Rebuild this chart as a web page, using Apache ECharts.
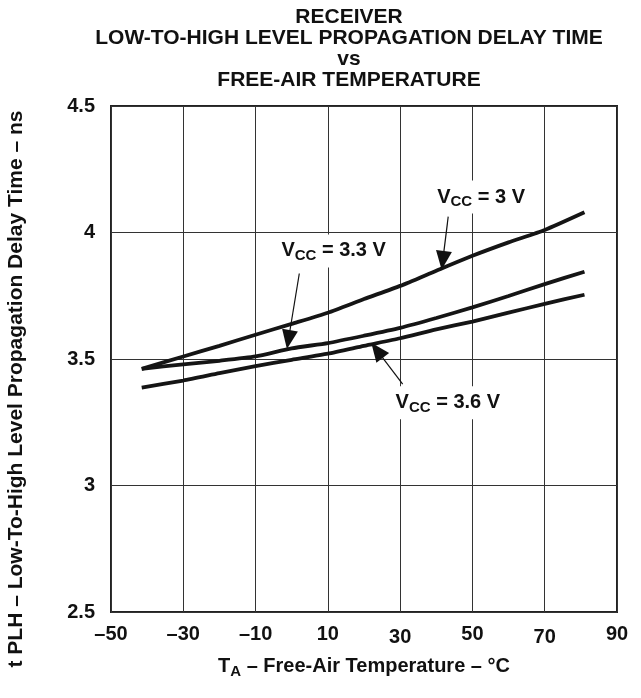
<!DOCTYPE html>
<html>
<head>
    <meta charset="utf-8">
    <title>Receiver tPLH vs temperature</title>
    <script src="https://cdn.jsdelivr.net/npm/echarts@6/dist/echarts.min.js"></script>
    <style>
        html, body { margin: 0; padding: 0; background: #fff; }
    </style>
</head>
<body>

<div id="main" style="width: 641px;height:698px;"></div>
<script type="text/javascript">
    // temperature points (°C) and delay values (ns)
    var temps = [-41.5, -30, -20, -10, 0, 10, 20, 30, 40, 50, 60, 70, 81];
    var vcc3 = [3.461, 3.510, 3.552, 3.596, 3.639, 3.683, 3.737, 3.789, 3.849, 3.908, 3.961, 4.010, 4.080];
    var vcc33 = [3.461, 3.479, 3.493, 3.510, 3.542, 3.563, 3.592, 3.623, 3.662, 3.704, 3.749, 3.796, 3.845];
    var vcc36 = [3.387, 3.415, 3.444, 3.472, 3.497, 3.521, 3.552, 3.582, 3.617, 3.648, 3.683, 3.718, 3.754];

    var yTicks = [2.5, 3, 3.5, 4, 4.5];
    var xTicks = [-50, -30, -10, 10, 30, 50, 70, 90];

    // annotations: label text, label anchor, arrow start, arrow end (data units)
    var noteText = ['3 V', '3.3 V', '3.6 V'];
    var noteAt = [[52.4, 4.14], [11.6, 3.927], [43.2, 3.327]];
    var arrowFrom = [[43.3, 4.063], [2.1, 3.838], [30.7, 3.401]];
    var arrowTo = [[41.8, 3.89], [-0.9, 3.577], [23.6, 3.534]];

    var myChart = echarts.init(document.getElementById('main'));

    function pairs(ys) {
        var out = [];
        for (var i = 0; i < temps.length; i++) {
            out.push([temps[i], ys[i]]);
        }
        return out;
    }

    var font = 'Liberation Sans, Arial, sans-serif';
    var curveStyle = { color: '#151515', width: 3.8 };

    var notePoints = [];
    var arrowLines = [];
    for (var i = 0; i < noteText.length; i++) {
        notePoints.push({ coord: noteAt[i], value: noteText[i] });
        arrowLines.push([{ coord: arrowFrom[i] }, { coord: arrowTo[i] }]);
    }

    var option = {
        animation: false,
        title: {
            text: 'RECEIVER\nLOW-TO-HIGH LEVEL PROPAGATION DELAY TIME\nvs\nFREE-AIR TEMPERATURE',
            left: 349,
            top: 7,
            padding: 0,
            textAlign: 'center',
            textStyle: {
                fontFamily: font,
                fontWeight: 'bold',
                fontSize: 21,
                lineHeight: 21,
                color: '#111'
            }
        },
        grid: {
            left: 111,
            right: 24,
            top: 106,
            bottom: 86,
            show: true,
            borderColor: '#222',
            borderWidth: 2,
            outerBoundsMode: 'none'
        },
        xAxis: {
            type: 'value',
            min: xTicks[0],
            max: xTicks[xTicks.length - 1],
            interval: 20,
            name: '{t|T}{s|A}{t| – Free-Air Temperature – °C}',
            nameLocation: 'middle',
            nameGap: 42,
            nameTextStyle: {
                rich: {
                    t: { fontFamily: font, fontWeight: 'bold', fontSize: 20, color: '#111' },
                    s: { fontFamily: font, fontWeight: 'bold', fontSize: 15, color: '#111', padding: [10, 0, 0, 0] }
                }
            },
            axisLine: { show: false },
            axisTick: { show: false },
            splitLine: { show: true, lineStyle: { color: '#333', width: 1 } },
            axisLabel: {
                margin: 12,
                showMinLabel: true,
                showMaxLabel: true,
                formatter: function (v) {
                    var s = v < 0 ? '–' + Math.abs(v) : String(v);
                    return (v === 30 || v === 70) ? '{lo|' + s + '}' : '{n|' + s + '}';
                },
                rich: {
                    n: { fontFamily: font, fontWeight: 'bold', fontSize: 20, color: '#111' },
                    lo: { fontFamily: font, fontWeight: 'bold', fontSize: 20, color: '#111', padding: [3, 0, 0, 0] }
                }
            }
        },
        yAxis: {
            type: 'value',
            min: yTicks[0],
            max: yTicks[yTicks.length - 1],
            interval: 0.5,
            name: 't PLH – Low-To-High Level Propagation Delay Time – ns',
            nameLocation: 'middle',
            nameGap: 84,
            nameRotate: 90,
            nameTextStyle: {
                fontFamily: font,
                fontWeight: 'bold',
                fontSize: 21,
                color: '#111',
                padding: [0, 60, 0, 0]
            },
            axisLine: { show: false },
            axisTick: { show: false },
            splitLine: { show: true, lineStyle: { color: '#333', width: 1 } },
            axisLabel: {
                margin: 16,
                fontFamily: font,
                fontWeight: 'bold',
                fontSize: 20,
                color: '#111',
                padding: [8, 0, 0, 0]
            }
        },
        series: [
            {
                name: 'VCC = 3 V',
                type: 'line',
                data: pairs(vcc3),
                smooth: 0.2,
                showSymbol: false,
                symbol: 'none',
                lineStyle: curveStyle,
                z: 3,
                markLine: {
                    silent: true,
                    symbol: ['none', 'triangle'],
                    symbolSize: [16, 19],
                    label: { show: false },
                    lineStyle: { color: '#111', width: 1.2, type: 'solid' },
                    data: arrowLines
                },
                markPoint: {
                    silent: true,
                    symbol: 'rect',
                    symbolSize: 1,
                    itemStyle: { color: 'rgba(0,0,0,0)' },
                    label: {
                        show: true,
                        position: 'inside',
                        backgroundColor: '#fff',
                        padding: [4, 10, 4, 10],
                        formatter: function (p) { return '{v|V}{s|CC}{v| = ' + p.value + '}'; },
                        rich: {
                            v: { fontFamily: font, fontWeight: 'bold', fontSize: 20, color: '#111' },
                            s: { fontFamily: font, fontWeight: 'bold', fontSize: 15, color: '#111', padding: [10, 0, 0, 0] }
                        }
                    },
                    data: notePoints
                }
            },
            {
                name: 'VCC = 3.3 V',
                type: 'line',
                data: pairs(vcc33),
                smooth: 0.2,
                showSymbol: false,
                symbol: 'none',
                lineStyle: curveStyle,
                z: 3
            },
            {
                name: 'VCC = 3.6 V',
                type: 'line',
                data: pairs(vcc36),
                smooth: 0.2,
                showSymbol: false,
                symbol: 'none',
                lineStyle: curveStyle,
                z: 3
            }
        ]
    };

    myChart.setOption(option);
</script>
</body>
</html>
